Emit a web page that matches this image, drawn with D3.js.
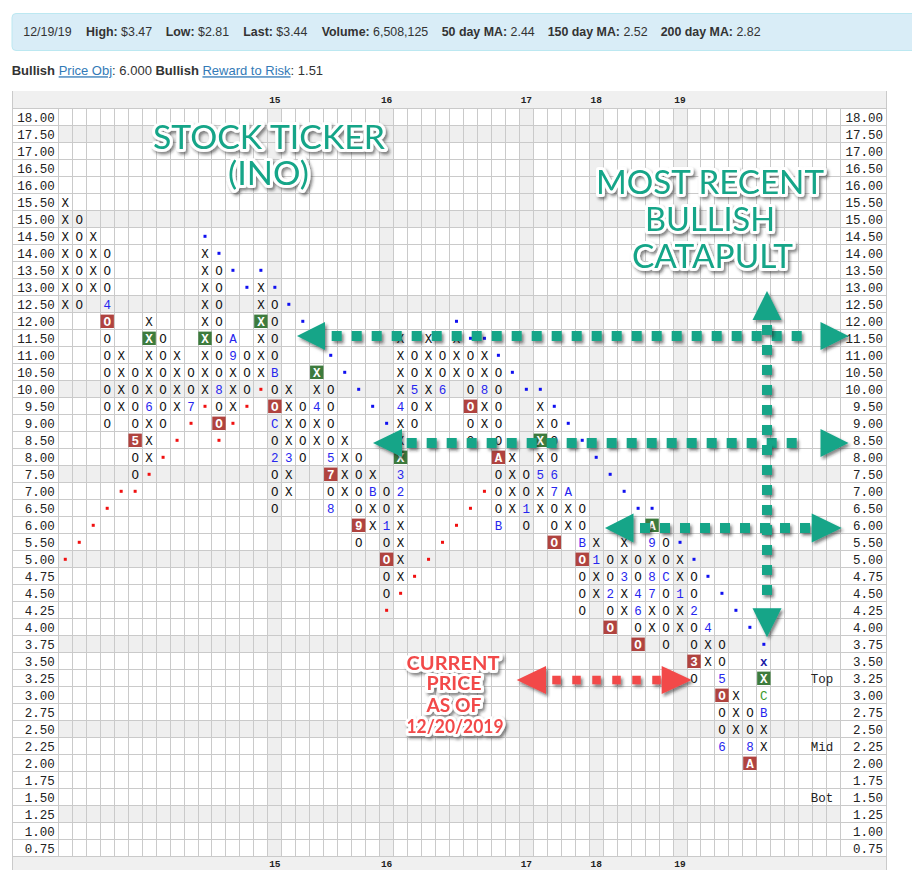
<!DOCTYPE html>
<html><head><meta charset="utf-8">
<script src="https://cdn.jsdelivr.net/npm/d3@7/dist/d3.min.js"></script>
<style>body{margin:0;background:#fff;}svg{display:block;}</style>
</head><body>
<svg id="c" width="912" height="886"></svg>
<script>
// ---------------- DATA ----------------
const priceLabels = ["18.00","17.50","17.00","16.50","16.00","15.50","15.00","14.50","14.00","13.50","13.00","12.50","12.00","11.50","11.00","10.50","10.00","9.50","9.00","8.50","8.00","7.50","7.00","6.50","6.00","5.50","5.00","4.75","4.50","4.25","4.00","3.75","3.50","3.25","3.00","2.75","2.50","2.25","2.00","1.75","1.50","1.25","1.00","0.75"];
const colTypes = ["X","O","X","O","X","O","X","O","X","O","X","O","X","O","X","O","X","O","X","O","X","O","X","O","X","O","X","O","X","O","X","O","X","O","X","O","X","O","X","O","X","O","X","O","X","O","X","O","X","O","X"];
const colHigh = [15.50,15.00,14.50,14.00,11.00,10.50,12.00,11.50,11.00,10.50,14.00,13.50,11.50,11.00,13.00,12.50,10.00,9.50,10.50,10.00,8.50,8.00,7.50,7.00,11.50,11.00,11.50,11.00,11.50,11.00,11.00,10.50,8.00,7.50,9.50,9.00,7.00,6.50,5.50,5.00,5.50,5.00,6.00,5.50,5.00,4.75,4.00,3.75,3.00,2.75,3.50];
const colLow  = [12.50,12.50,13.00,9.00,9.50,7.50,8.00,9.00,9.50,9.50,10.00,9.00,9.50,10.00,10.50,6.50,7.00,8.00,8.50,6.50,7.00,5.50,6.00,4.50,4.75,9.00,9.50,10.00,10.50,8.50,9.00,6.00,6.50,6.00,6.50,5.50,6.00,4.25,4.50,4.00,4.25,3.75,4.00,3.75,4.00,3.25,3.50,2.25,2.50,2.00,2.25];
// [column, price, text, kind]  kind: m=month, r=sell signal box, g=buy signal box, c=current month, b=pending
const markers = [
 [3,"12.50","4","m"],[3,"12.00","O","r"],[5,"8.50","5","r"],[6,"9.50","6","m"],[6,"11.50","X","g"],
 [9,"9.50","7","m"],[10,"11.50","X","g"],[11,"10.00","8","m"],[11,"9.00","O","r"],[12,"11.00","9","m"],
 [12,"11.50","A","m"],[14,"12.00","X","g"],[15,"10.50","B","m"],[15,"9.50","O","r"],[15,"9.00","C","m"],
 [15,"8.00","2","m"],[16,"8.00","3","m"],[18,"9.50","4","m"],[18,"10.50","X","g"],[19,"8.00","5","m"],
 [19,"7.50","7","r"],[19,"6.50","8","m"],[21,"6.00","9","r"],[22,"7.00","B","m"],[23,"6.00","1","m"],
 [23,"5.00","O","r"],[24,"7.00","2","m"],[24,"7.50","3","m"],[24,"8.00","X","g"],[24,"9.50","4","m"],
 [25,"10.00","5","m"],[27,"10.00","6","m"],[29,"9.50","O","r"],[30,"10.00","8","m"],[31,"8.00","A","r"],
 [31,"6.00","B","m"],[33,"6.50","1","m"],[34,"7.50","5","m"],[34,"8.50","X","g"],[35,"7.50","6","m"],
 [35,"7.00","7","m"],[35,"5.50","O","r"],[36,"7.00","A","m"],[37,"5.50","B","m"],[37,"5.00","O","r"],
 [38,"5.00","1","m"],[39,"4.50","2","m"],[39,"4.00","O","r"],[40,"4.75","3","m"],[41,"4.50","4","m"],
 [41,"4.25","6","m"],[41,"3.75","O","r"],[42,"4.50","7","m"],[42,"4.75","8","m"],[42,"5.50","9","m"],
 [42,"6.00","A","g"],[43,"4.75","C","m"],[44,"4.50","1","m"],[45,"4.25","2","m"],[45,"3.50","3","r"],
 [46,"4.00","4","m"],[47,"3.25","5","m"],[47,"3.00","O","r"],[47,"2.25","6","m"],[49,"2.25","8","m"],
 [49,"2.00","A","r"],[50,"2.75","B","m"],[50,"3.00","C","c"],[50,"3.25","X","g"],[50,"3.50","x","b"]
];
const blueDots = [[10,"14.50"],[11,"14.00"],[12,"13.50"],[13,"13.00"],[14,"13.50"],[15,"13.00"],[16,"12.50"],[17,"12.00"],[18,"11.50"],[19,"11.00"],[20,"10.50"],[21,"10.00"],[22,"9.50"],[23,"9.00"],
 [28,"12.00"],[29,"11.50"],[30,"11.50"],[31,"11.00"],[32,"10.50"],[33,"10.00"],[34,"10.00"],[35,"9.50"],[36,"9.00"],[37,"8.50"],[38,"8.00"],[39,"7.50"],[40,"7.00"],[41,"6.50"],[42,"6.50"],[43,"6.00"],[44,"5.50"],[45,"5.00"],[46,"4.75"],[47,"4.50"],[48,"4.25"],[49,"4.00"],[50,"3.75"]];
const redDots = [[0,"5.00"],[1,"5.50"],[2,"6.00"],[3,"6.50"],[4,"7.00"],[5,"7.00"],[6,"7.50"],[7,"8.00"],[8,"8.50"],[9,"9.00"],[10,"9.50"],[11,"8.50"],[12,"9.00"],[13,"9.50"],[14,"10.00"],
 [23,"4.25"],[24,"4.50"],[25,"4.75"],[26,"5.00"],[27,"5.50"],[28,"6.00"],[29,"6.50"],[30,"7.00"]];
const yearLabels = ["15","16","17","18","19"];
const yearCols = [15,23,33,38,44];
const zoneLabels = [["Top","3.25"],["Mid","2.25"],["Bot","1.50"]];
const headerLabels = ["","High:","Low:","Last:","Volume:","50 day MA:","150 day MA:","200 day MA:"];
const headerValues = ["12/19/19"," $3.47"," $2.81"," $3.44"," 6,508,125"," 2.44"," 2.52"," 2.82"];

// ---------------- LAYOUT ----------------
const MONO = "'Courier New','Liberation Mono',monospace";
const SANS = "'Liberation Sans',Arial,Helvetica,sans-serif";
const G = {left:12.7, labL:58.3, labR:840.7, right:886, top:108.8, bottom:856.8, headTop:91, footBot:870};
const nCols = 56;
const svg = d3.select("#c");
const defs = svg.append("defs");
const flt = defs.append("filter").attr("id","sh").attr("x","-30%").attr("y","-30%").attr("width","160%").attr("height","180%");
flt.append("feDropShadow").attr("dx",2).attr("dy",2.5).attr("stdDeviation",1.8).attr("flood-color","#222").attr("flood-opacity",0.55);

const x = d3.scaleBand().domain(d3.range(nCols)).range([G.labL, G.labR]);
const y = d3.scaleBand().domain(priceLabels).range([G.top, G.bottom]);
const cx = c => x(c) + x.bandwidth()/2;
const cy = p => y(p) + y.bandwidth()/2;

// header info box
svg.append("rect").attr("x",12).attr("y",13.5).attr("width",910).attr("height",37).attr("rx",4)
  .attr("fill","#d9edf7").attr("stroke","#bce8f1");
const hx = [23.3,86,165.7,243.3,321.7,441.7,547.7,660.7];
headerLabels.forEach((lab,i)=>{
  const t = svg.append("text").attr("x",hx[i]).attr("y",36.3).attr("font-family",SANS).attr("font-size",12.4).attr("fill","#333");
  if(lab) t.append("tspan").attr("font-weight","bold").text(lab);
  t.append("tspan").text(headerValues[i]);
});
// objective line
const ol = svg.append("text").attr("x",11.7).attr("y",75.3).attr("font-family",SANS).attr("font-size",13).attr("fill","#333").attr("xml:space","preserve");
ol.append("tspan").attr("font-weight","bold").text("Bullish ");
ol.append("tspan").attr("fill","#337ab7").style("text-decoration","underline").text("Price Obj");
ol.append("tspan").text(": 6.000 ");
ol.append("tspan").attr("font-weight","bold").text("Bullish ");
ol.append("tspan").attr("fill","#337ab7").style("text-decoration","underline").text("Reward to Risk");
ol.append("tspan").text(": 1.51");

// bands
const bg = svg.append("g");
bg.append("rect").attr("x",G.left).attr("y",G.headTop).attr("width",G.right-G.left).attr("height",G.top-G.headTop).attr("fill","#f0f0f0");
bg.append("rect").attr("x",G.left).attr("y",G.bottom).attr("width",G.right-G.left).attr("height",G.footBot-G.bottom).attr("fill","#f0f0f0");
bg.selectAll(".srow").data(priceLabels.filter((p,i)=>i%5===1)).join("rect")
  .attr("x",G.labL).attr("y",d=>y(d)).attr("width",G.labR-G.labL).attr("height",y.bandwidth()).attr("fill","#efefef");
bg.selectAll(".scol").data(yearCols).join("rect")
  .attr("x",d=>x(d)).attr("y",G.top).attr("width",x.bandwidth()).attr("height",G.bottom-G.top).attr("fill","#efefef");

// grid lines
const gl = svg.append("g").attr("stroke","#cacaca").attr("stroke-width",1).attr("shape-rendering","crispEdges");
const vx = d3.range(nCols).map(c=>x(c)).concat([G.labR]);
gl.selectAll(".v").data(vx).join("line").attr("x1",d=>d).attr("x2",d=>d).attr("y1",G.top).attr("y2",G.bottom);
gl.selectAll(".vb").data([G.left,G.right]).join("line").attr("x1",d=>d).attr("x2",d=>d).attr("y1",G.headTop).attr("y2",G.footBot);
const hy = priceLabels.map(p=>y(p)).concat([G.bottom]);
gl.selectAll(".h").data(hy).join("line").attr("x1",G.left).attr("x2",G.right).attr("y1",d=>d).attr("y2",d=>d);

// axis labels
const lab = svg.append("g").attr("font-family",MONO).attr("font-size",12.5).attr("fill","#222");
lab.selectAll(".l").data(priceLabels).join("text").attr("x",54.8).attr("y",d=>cy(d)).attr("dy","0.35em").attr("text-anchor","end").text(d=>d);
lab.selectAll(".r").data(priceLabels).join("text").attr("x",883).attr("y",d=>cy(d)).attr("dy","0.35em").attr("text-anchor","end").text(d=>d);
lab.selectAll(".z").data(zoneLabels).join("text").attr("x",cx(54)-9).attr("y",d=>cy(d[1])).attr("dy","0.35em").text(d=>d[0]);
const yl = svg.append("g").attr("font-family",MONO).attr("font-size",9.5).attr("font-weight","bold").attr("fill","#222").attr("text-anchor","middle");
[100,864].forEach(yy=>{
  yl.selectAll(null).data(yearLabels).join("text").attr("x",(d,i)=>cx(yearCols[i])).attr("y",yy).attr("dy","0.35em").text(d=>d);
});

// trend line dots
const dg = svg.append("g");
dg.selectAll(".bd").data(blueDots).join("rect").attr("x",d=>cx(d[0])-1.5).attr("y",d=>cy(d[1])-1.5).attr("width",3).attr("height",3).attr("fill","#1010f0");
dg.selectAll(".rd").data(redDots).join("rect").attr("x",d=>cx(d[0])-1.5).attr("y",d=>cy(d[1])-1.5).attr("width",3).attr("height",3).attr("fill","#f01010");

// X / O columns
const mkKey = new Set(markers.map(m=>m[0]+"|"+m[1]));
const cells = [];
colTypes.forEach((t,c)=>{
  priceLabels.forEach(p=>{
    const v = +p;
    if(v>=colLow[c]-1e-9 && v<=colHigh[c]+1e-9 && !mkKey.has(c+"|"+p)) cells.push([c,p,t]);
  });
});
const mg = svg.append("g").attr("font-family",MONO).attr("font-size",12.5).attr("text-anchor","middle");
mg.selectAll(".cell").data(cells).join("text").attr("x",d=>cx(d[0])).attr("y",d=>cy(d[1])).attr("dy","0.35em").attr("fill","#111").text(d=>d[2]);
const boxFill = {r:"#b0433f", g:"#3d7b3d"};
mg.selectAll(".box").data(markers.filter(m=>m[3]==="r"||m[3]==="g")).join("rect")
  .attr("x",d=>cx(d[0])-6.7).attr("y",d=>cy(d[1])-6.7).attr("width",13.4).attr("height",13.4).attr("fill",d=>boxFill[d[3]]);
const txtFill = {m:"#2626ee", r:"#fff", g:"#fff", c:"#3a9a2a", b:"#1c1ca8"};
mg.selectAll(".mk").data(markers).join("text").attr("x",d=>cx(d[0])).attr("y",d=>cy(d[1])).attr("dy","0.35em")
  .attr("fill",d=>txtFill[d[3]]).attr("font-weight",d=>(d[3]==="m"||d[3]==="c")?"normal":"bold").text(d=>d[2]);

// ---------------- ANNOTATIONS ----------------
const TEAL = "#13a588", RED = "#f24a4a";
const ann = svg.append("g");
function hArrow(yy, tipL, baseL, baseR, tipR, half, d0, d1, size, color){
  const g = ann.append("g").attr("fill",color).attr("filter","url(#sh)");
  g.append("path").attr("d",`M${tipL},${yy}L${baseL},${yy-half}L${baseL},${yy+half}Z`);
  g.append("path").attr("d",`M${tipR},${yy}L${baseR},${yy-half}L${baseR},${yy+half}Z`);
  for(let d=d0; d<=d1+0.01; d+=20) g.append("rect").attr("x",d-size/2).attr("y",yy-size/2).attr("width",size).attr("height",size);
}
function vArrow(xx, tipT, baseT, baseB, tipB, half, d0, d1, size, color){
  const g = ann.append("g").attr("fill",color).attr("filter","url(#sh)");
  g.append("path").attr("d",`M${xx},${tipT}L${xx-half},${baseT}L${xx+half},${baseT}Z`);
  g.append("path").attr("d",`M${xx},${tipB}L${xx-half},${baseB}L${xx+half},${baseB}Z`);
  for(let d=d0; d<=d1+0.01; d+=20) g.append("rect").attr("x",xx-size/2).attr("y",d-size/2).attr("width",size).attr("height",size);
}
hArrow(336, 297, 325, 820.5, 848.5, 14, 336.7, 808, 10, TEAL);
hArrow(443, 373, 402, 820.5, 848.5, 14, 411.7, 808, 10, TEAL);
hArrow(528, 605, 633.5, 811.7, 841.7, 14.5, 645, 805, 10, TEAL);
vArrow(767, 291, 320, 608.3, 637.3, 14.5, 330, 590, 10, TEAL);
hArrow(680, 516.7, 546, 661.7, 691.7, 14, 556.5, 656.5, 8.5, RED);

function label(txt, xx, yy, len, size, color, weight){
  ann.append("text").attr("x",xx).attr("y",yy).attr("text-anchor","middle")
    .attr("font-family","Lato,'Open Sans',sans-serif").attr("font-size",size).attr("font-weight",weight)
    .attr("textLength",len).attr("lengthAdjust","spacingAndGlyphs")
    .attr("fill",color).attr("stroke","#fff").attr("stroke-width",6).attr("stroke-linejoin","round")
    .attr("paint-order","stroke").attr("filter","url(#sh)").text(txt);
}
label("STOCK TICKER", 269, 148.5, 232, 32.5, TEAL, 400);
label("(INO)", 268.5, 185, 81, 32.5, TEAL, 400);
label("MOST RECENT", 710, 194, 228, 32.5, TEAL, 400);
label("BULLISH", 710, 230.5, 130, 32.5, TEAL, 400);
label("CATAPULT", 712.5, 267.5, 161, 32.5, TEAL, 400);
label("CURRENT", 453, 669.5, 93, 18.5, RED, 700);
label("PRICE", 454, 690, 55, 18.5, RED, 700);
label("AS OF", 454, 711.5, 55, 18.5, RED, 700);
label("12/20/2019", 455, 733, 97, 18.5, RED, 700);
</script>
</body></html>
